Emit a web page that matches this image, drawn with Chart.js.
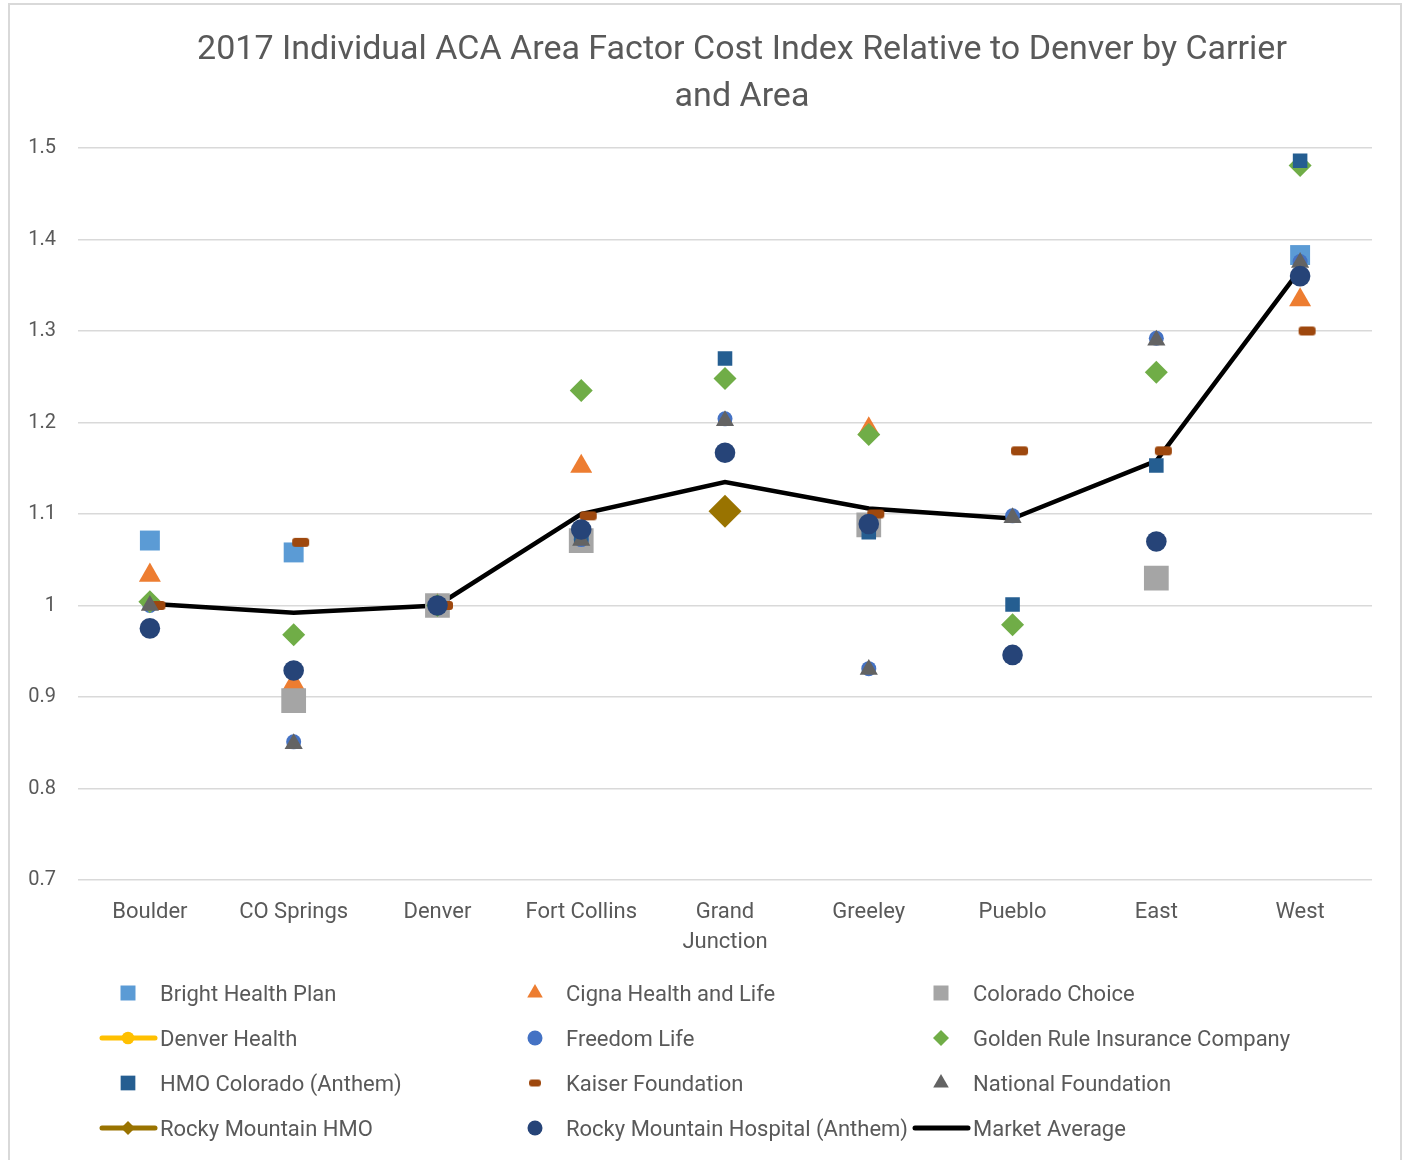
<!DOCTYPE html>
<html><head><meta charset="utf-8">
<script src="https://cdn.jsdelivr.net/npm/chart.js@4.4.1/dist/chart.umd.min.js"></script>
<style>html,body{margin:0;padding:0;background:#fff}#c{display:block}</style>
</head><body>
<canvas id="c" width="1406" height="1160"></canvas>
<script>
// ---------- DATA ----------
const titleLines = ['2017 Individual ACA Area Factor Cost Index Relative to Denver by Carrier', 'and Area'];
const categories = ['Boulder', 'CO Springs', 'Denver', 'Fort Collins', ['Grand', 'Junction'], 'Greeley', 'Pueblo', 'East', 'West'];
const yTickLabels = ['0.7', '0.8', '0.9', '1', '1.1', '1.2', '1.3', '1.4', '1.5'];
const seriesNames = ['Bright Health Plan', 'Cigna Health and Life', 'Colorado Choice', 'Denver Health', 'Freedom Life',
  'Golden Rule Insurance Company', 'HMO Colorado (Anthem)', 'Kaiser Foundation', 'National Foundation',
  'Rocky Mountain HMO', 'Rocky Mountain Hospital (Anthem)', 'Market Average'];
const brightHealth   = [1.071, 1.058, 1.0, null, null, null, null, null, 1.383];
const cigna          = [1.033, 0.915, 1.0, 1.152, null, 1.193, null, null, 1.334];
const coloradoChoice = [null, 0.896, 1.0, 1.071, null, 1.088, null, 1.030, null];
const denverHealth   = [null, null, 1.0, null, null, null, null, null, null];
const freedomLife    = [1.0, 0.851, 1.0, 1.072, 1.204, 0.931, 1.098, 1.292, 1.376];
const goldenRule     = [1.004, 0.968, 1.0, 1.235, 1.248, 1.187, 0.979, 1.255, 1.481];
const hmoColorado    = [null, null, 1.0, 1.075, 1.270, 1.080, 1.001, 1.153, 1.486];
const kaiser         = [1.0, 1.069, 1.0, 1.098, null, 1.100, 1.169, 1.169, 1.300];
const nationalFound  = [1.0, 0.849, 1.0, 1.071, 1.202, 0.930, 1.096, 1.290, 1.375];
const rockyHMO       = [null, null, null, null, 1.103, null, null, null, null];
const rockyHospital  = [0.975, 0.929, 1.0, 1.083, 1.167, 1.089, 0.946, 1.070, 1.360];
const marketAverage  = [1.002, 0.992, 1.0, 1.100, 1.135, 1.106, 1.095, 1.158, 1.367];
const seriesValues = [brightHealth, cigna, coloradoChoice, denverHealth, freedomLife, goldenRule,
  hmoColorado, kaiser, nationalFound, rockyHMO, rockyHospital, marketAverage];

// ---------- STYLE ----------
const FONT = 'Roboto, "Liberation Sans", sans-serif';
const TEXT = '#595959';
function makeDash(w, h, offset, color) {
  const c = document.createElement('canvas');
  c.width = Math.ceil(w + 2 * Math.abs(offset) + 4); c.height = Math.ceil(h + 2);
  const g = c.getContext('2d');
  const cx = c.width / 2 + offset, cy = c.height / 2, rr = 3;
  g.fillStyle = color;
  g.beginPath();
  const x0 = cx - w / 2, y0 = cy - h / 2;
  g.moveTo(x0 + rr, y0); g.lineTo(x0 + w - rr, y0); g.arcTo(x0 + w, y0, x0 + w, y0 + rr, rr);
  g.lineTo(x0 + w, y0 + h - rr); g.arcTo(x0 + w, y0 + h, x0 + w - rr, y0 + h, rr);
  g.lineTo(x0 + rr, y0 + h); g.arcTo(x0, y0 + h, x0, y0 + h - rr, rr);
  g.lineTo(x0, y0 + rr); g.arcTo(x0, y0, x0 + rr, y0, rr); g.closePath(); g.fill();
  return c;
}
const kaiserImg = makeDash(17, 9, 7, '#9e480e');
const kaiserLegendImg = makeDash(12, 7, 0, '#9e480e');
const styles = [
  { color: '#5b9bd5', pt: 'rect', r: 14.1, lr: 10.6 },
  { color: '#ed7d31', pt: 'triangle', r: 12.7, lr: 9 },
  { color: '#a5a5a5', pt: 'rect', r: 17.5, lr: 10.6 },
  { color: '#ffc000', pt: 'circle', r: 7, lr: 6.3, line: true },
  { color: '#4472c4', pt: 'circle', r: 7.5, lr: 7.5 },
  { color: '#70ad47', pt: 'rectRot', r: 11.5, lr: 8 },
  { color: '#255e91', pt: 'rect', r: 10.3, lr: 10.4 },
  { color: '#9e480e', pt: kaiserImg, lpt: kaiserLegendImg, r: 8, lr: 6 },
  { color: '#636363', pt: 'triangle', r: 10.5, lr: 9 },
  { color: '#997300', pt: 'rectRot', r: 16.5, lr: 7, line: true },
  { color: '#264478', pt: 'circle', r: 10.3, lr: 7.5 },
  { color: '#000000', pt: false, r: 0, line: true, noMarker: true }
];

const N = seriesNames.length;
const datasets = seriesNames.map((name, i) => {
  const s = styles[i];
  const isMarket = i === N - 1;
  return {
    label: name,
    data: seriesValues[i],
    borderColor: s.color,
    backgroundColor: s.color,
    pointStyle: s.pt,
    pointRadius: s.r,
    pointHoverRadius: s.r,
    pointBorderWidth: 0,
    pointBackgroundColor: s.color,
    showLine: !!s.line,
    borderWidth: isMarket ? 4.5 : 5,
    spanGaps: false,
    tension: 0,
    order: isMarket ? 1000 : (N - i)
  };
});

const decor = {
  id: 'decor',
  beforeDraw(chart) {
    const ctx = chart.ctx;
    ctx.save(); ctx.fillStyle = '#fff'; ctx.fillRect(0, 0, chart.width, chart.height); ctx.restore();
  },
  afterDraw(chart) {
    const ctx = chart.ctx;
    ctx.save();
    // frame
    ctx.strokeStyle = '#d9d9d9'; ctx.lineWidth = 2;
    ctx.strokeRect(9, 4, 1392, 1200);
    // title
    ctx.fillStyle = TEXT; ctx.textAlign = 'center'; ctx.textBaseline = 'middle';
    ctx.font = '34px ' + FONT;
    titleLines.forEach((t, i) => ctx.fillText(t, 742, 50 + i * 47));
    // legend
    const colMarker = [128, 535, 941], colText = [160, 566, 973], rowY = [993, 1038, 1083, 1128];
    ctx.font = '22px ' + FONT; ctx.textAlign = 'left';
    seriesNames.forEach((name, i) => {
      const col = i % 3, row = Math.floor(i / 3);
      const mx = colMarker[col], my = rowY[row], s = styles[i];
      if (s.line) {
        ctx.save(); ctx.strokeStyle = s.color; ctx.lineWidth = 5; ctx.lineCap = 'round';
        ctx.beginPath(); ctx.moveTo(mx - 26, my); ctx.lineTo(mx + 27, my); ctx.stroke(); ctx.restore();
      }
      if (!s.noMarker) {
        ctx.save(); ctx.fillStyle = s.color; ctx.strokeStyle = s.color;
        Chart.helpers.drawPoint(ctx, { pointStyle: s.lpt || s.pt, radius: s.lr, rotation: 0, borderWidth: 0 }, mx, my);
        ctx.restore();
      }
      ctx.fillStyle = TEXT;
      ctx.fillText(name, colText[col], my + 2);
    });
    ctx.restore();
  }
};

new Chart(document.getElementById('c'), {
  type: 'line',
  data: { labels: categories, datasets },
  options: {
    responsive: false,
    animation: false,
    events: [],
    layout: { padding: { top: 148, left: 10, right: 34, bottom: 190 } },
    plugins: { legend: { display: false }, title: { display: false }, tooltip: { enabled: false } },
    scales: {
      x: {
        type: 'category', offset: true,
        grid: { display: false, drawTicks: false, tickLength: 0 },
        border: { display: false },
        ticks: { color: TEXT, font: { size: 22, family: FONT, lineHeight: 1.36 }, padding: 18, maxRotation: 0, autoSkip: false },
        afterFit(s) { s.height = 90; }
      },
      y: {
        min: 0.7, max: 1.5,
        grid: { color: '#d9d9d9', lineWidth: 1.5, drawTicks: false, tickLength: 0 },
        border: { display: false },
        ticks: {
          stepSize: 0.1, padding: 22, color: TEXT, font: { size: 20, family: FONT },
          callback: (v) => yTickLabels[Math.round((v - 0.7) * 10)]
        },
        afterFit(s) { s.width = 68; }
      }
    }
  },
  plugins: [decor]
});
</script>
</body></html>
